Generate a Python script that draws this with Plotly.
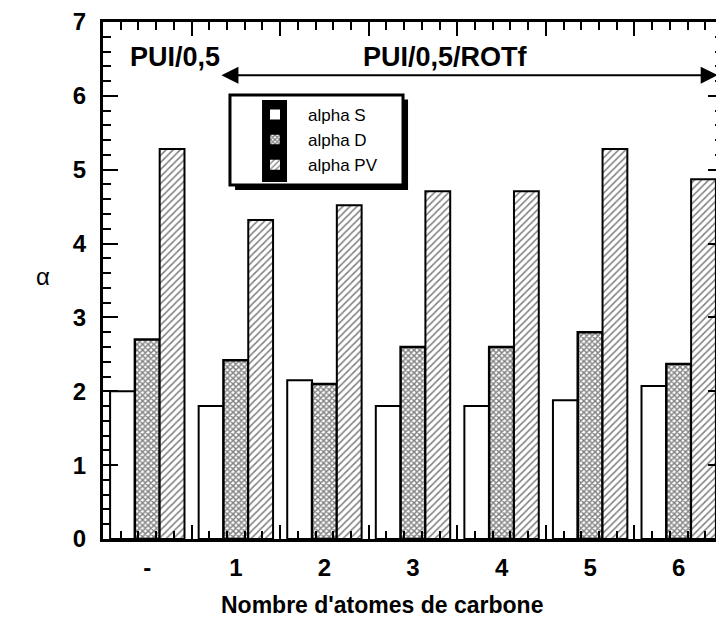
import plotly.graph_objects as go

# data
categories = ["-", "1", "2", "3", "4", "5", "6"]
alpha_s = [2.0, 1.8, 2.15, 1.8, 1.8, 1.88, 2.07]
alpha_d = [2.7, 2.42, 2.1, 2.6, 2.6, 2.8, 2.37]
alpha_pv = [5.28, 4.32, 4.52, 4.71, 4.71, 5.28, 4.87]

font_main = "Liberation Sans, Arial, sans-serif"

fig = go.Figure()
fig.add_trace(go.Bar(x=categories, y=alpha_s, name="alpha S",
                     marker=dict(color="white", line=dict(color="black", width=2))))
fig.add_trace(go.Bar(x=categories, y=alpha_d, name="alpha D",
                     marker=dict(color="white", line=dict(color="black", width=2.5),
                                 pattern=dict(shape="x", fgcolor="black", bgcolor="white",
                                              size=4, solidity=0.6))))
fig.add_trace(go.Bar(x=categories, y=alpha_pv, name="alpha PV",
                     marker=dict(color="white", line=dict(color="black", width=2),
                                 pattern=dict(shape="/", fgcolor="black", bgcolor="white",
                                              size=5, solidity=0.3))))

# legend frame drawn by hand (shadow + box + dark swatch column)
shapes = [
    dict(type="rect", xref="paper", yref="paper", x0=0.213, x1=0.492, y0=0.675, y1=0.85,
         fillcolor="black", line=dict(width=0)),
    dict(type="rect", xref="paper", yref="paper", x0=0.2048, x1=0.4839, y0=0.6847, y1=0.8588,
         fillcolor="white", line=dict(color="black", width=3)),
    dict(type="rect", xref="paper", yref="paper", x0=0.2565, x1=0.2968, y0=0.6905, y1=0.8491,
         fillcolor="black", line=dict(width=0)),
]

annotations = [
    dict(text="<b>PUI/0,5</b>", x=0.116, y=0.932, xref="paper", yref="paper",
         xanchor="center", yanchor="middle",
         showarrow=False, font=dict(size=27, family=font_main, color="black")),
    dict(text="<b>PUI/0,5/ROTf</b>", x=0.552, y=0.932, xref="paper", yref="paper",
         xanchor="center", yanchor="middle",
         showarrow=False, font=dict(size=27, family=font_main, color="black")),
    dict(text="", x=6.44, y=6.28, xref="x2", yref="y", ax=0.82, ay=6.28, axref="x2", ayref="y",
         showarrow=True, arrowside="end+start", arrowhead=2, arrowsize=1.7, arrowwidth=2,
         arrowcolor="black"),
    dict(text="α", x=-0.097, y=0.507, xref="paper", yref="paper", showarrow=False,
         xanchor="center", yanchor="middle",
         font=dict(size=24, family=font_main, color="black")),
    dict(text="<b>Nombre d'atomes de carbone</b>", x=0.45, y=-0.1277, xref="paper",
         yref="paper", xanchor="center", yanchor="middle", showarrow=False,
         font=dict(size=23, family=font_main, color="black")),
]

# the page puts the figure 8 px in from the top-left corner, so the figure is 8 px smaller
fig.update_layout(
    width=716, height=613,
    margin=dict(l=95, r=1, t=14, b=82, autoexpand=False),
    plot_bgcolor="white", paper_bgcolor="white",
    barmode="group", bargap=0.16, bargroupgap=0,
    font=dict(family=font_main, color="black"),
    showlegend=True,
    legend=dict(x=0.2242, y=0.855, xanchor="left", yanchor="top", bgcolor="rgba(0,0,0,0)",
                borderwidth=0, itemwidth=56,
                font=dict(size=17, family=font_main, color="black")),
    xaxis=dict(type="category", range=[-0.5, 6.5], showline=True, linecolor="black",
               linewidth=2.5, mirror="ticks", showgrid=False, automargin=False,
               ticks="inside", tickson="boundaries", ticklen=14, tickwidth=2,
               tickcolor="black",
               tickfont=dict(size=24, family=font_main, color="black"),
               ticklabelstandoff=5,
               tickvals=categories, ticktext=["<b>%s</b>" % c for c in categories]),
    # overlay axis only carries the minor ticks between the groups
    xaxis2=dict(overlaying="x", anchor="y", side="bottom", range=[-0.5, 6.5],
                showline=False, showgrid=False, zeroline=False, showticklabels=False,
                automargin=False, layer="above traces",
                tickmode="linear", tick0=-0.5, dtick=1, ticks="inside", ticklen=14,
                tickwidth=2, tickcolor="black", mirror="ticks",
                minor=dict(tick0=-0.5, dtick=0.2, ticks="inside", ticklen=8,
                           tickwidth=2, tickcolor="black")),
    yaxis=dict(range=[0, 7], showline=True, linecolor="black", linewidth=3, mirror="ticks",
               showgrid=False, zeroline=False, tickmode="linear", tick0=0, dtick=1,
               automargin=False,
               ticks="inside", ticklen=15, tickwidth=2, tickcolor="black",
               ticklabelstandoff=9,
               tickfont=dict(size=24, family=font_main, color="black"),
               tickprefix="<b>", ticksuffix="</b>",
               minor=dict(dtick=0.2, ticks="inside", ticklen=8, tickwidth=2,
                          tickcolor="black")),
    shapes=shapes,
    annotations=annotations,
)

fig.write_html("out.html")
